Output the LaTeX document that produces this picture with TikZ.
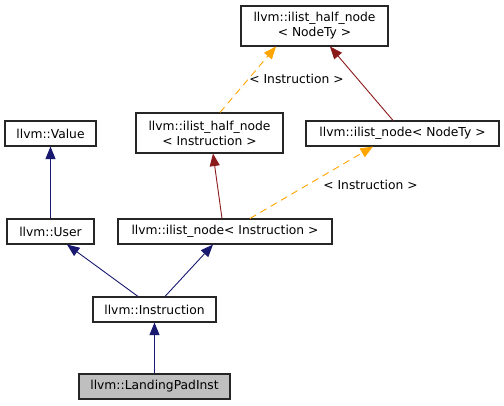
\documentclass[tikz,border=0pt]{standalone}
\usepackage{fontspec}
\setmainfont{DejaVu Sans}
\usetikzlibrary{arrows.meta}
\definecolor{eblue}{HTML}{191970}
\definecolor{ered}{HTML}{8B1A1A}
\definecolor{eorange}{HTML}{FFA500}
\definecolor{boxgray}{HTML}{BFBFBF}
\tikzset{
  cls/.style={draw=black!85, line width=1.1pt, fill=white, inner sep=0pt, align=center, font=\fontsize{12.3}{15}\selectfont},
  tip/.style={-{Triangle[length=12.5pt,width=10pt]}},
  pub/.style={eblue, line width=0.9pt, tip},
  priv/.style={ered, line width=0.9pt, tip},
  tmpl/.style={eorange, line width=0.9pt, dash pattern=on 7pt off 5pt, tip},
  lbl/.style={font=\fontsize{12.3}{15}\selectfont, inner sep=0pt},
}
\begin{document}
\begin{tikzpicture}[x=1pt,y=1pt]
\useasboundingbox (0,0) rectangle (504,405);
\node[cls, minimum width=147pt, minimum height=40pt] (top) at (314.5,379) {llvm::ilist\_half\_node\\{}< NodeTy >};
\node[cls, minimum width=91pt, minimum height=25pt] (val) at (50.5,271.5) {llvm::Value};
\node[cls, minimum width=147pt, minimum height=40pt] (hni) at (209.5,272) {llvm::ilist\_half\_node\\{}< Instruction >};
\node[cls, minimum width=193pt, minimum height=25pt] (iln) at (402.5,271.5) {llvm::ilist\_node< NodeTy >};
\node[cls, minimum width=87pt, minimum height=25pt] (usr) at (50.5,173.5) {llvm::User};
\node[cls, minimum width=214pt, minimum height=25pt] (ili) at (225,173.5) {llvm::ilist\_node< Instruction >};
\node[cls, minimum width=123pt, minimum height=25pt] (ins) at (154.5,95.5) {llvm::Instruction};
\node[cls, fill=boxgray, minimum width=151pt, minimum height=25pt] (lpi) at (154.5,18.5) {llvm::LandingPadInst};

\draw[pub] (usr.north) -- (val.south);
\draw[priv] ([xshift=-3pt]ili.north) -- ([xshift=3.5pt]hni.south);
\draw[tmpl] ([xshift=25pt]ili.north) -- ([xshift=-29.5pt]iln.south);
\draw[tmpl] ([xshift=10.5pt]hni.north) -- ([xshift=-38.5pt]top.south);
\draw[priv] ([xshift=-9.5pt]iln.north) -- ([xshift=15.5pt]top.south);
\draw[pub] ([xshift=-16.5pt]ins.north) -- ([xshift=16.5pt]usr.south);
\draw[pub] ([xshift=10.5pt]ins.north) -- ([xshift=-12pt]ili.south);
\draw[pub] (lpi.north) -- (ins.south);

\node[lbl] (l1) at (296.5,326) {< Instruction >};
\node[lbl] (l2) at (370.5,220) {< Instruction >};
\end{tikzpicture}
\end{document}
